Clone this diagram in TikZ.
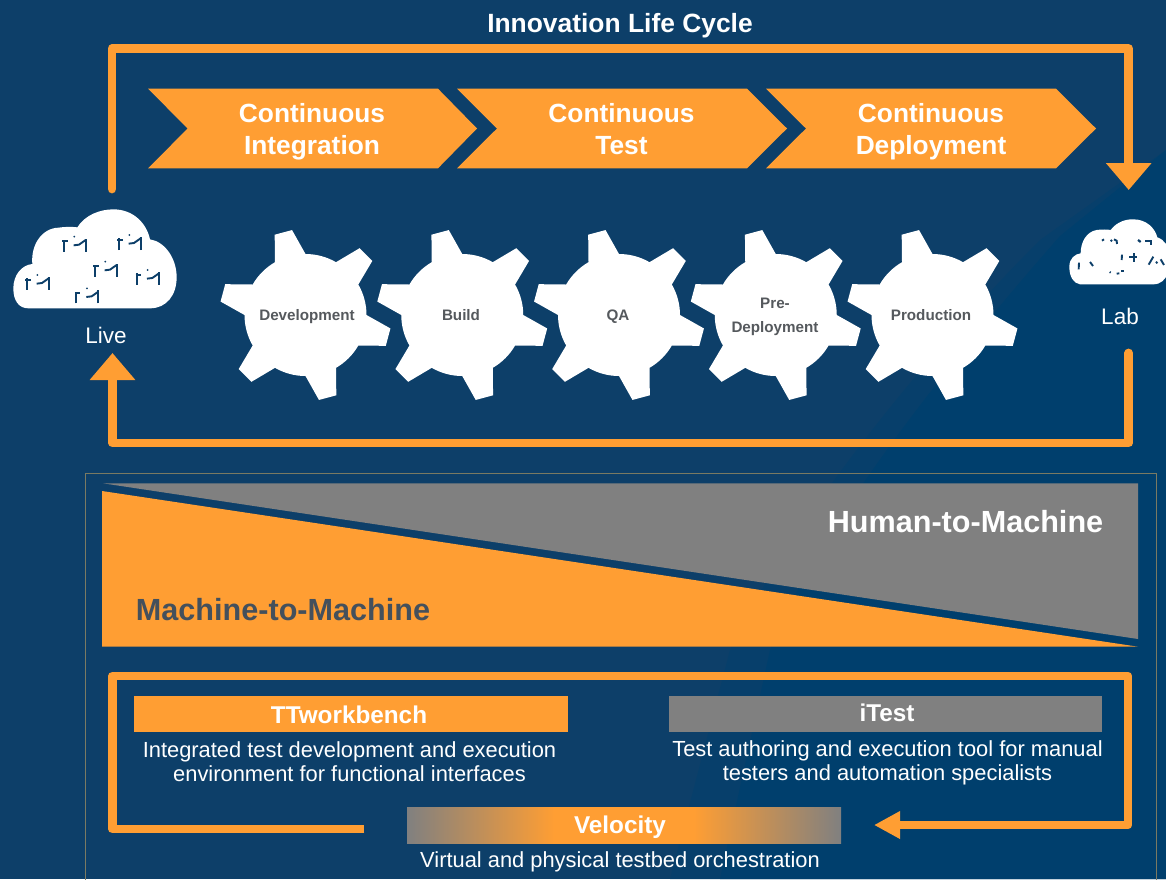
\documentclass[tikz,border=0pt]{standalone}
\usepackage{fontspec}
\setmainfont{Liberation Sans}
\usetikzlibrary{arrows.meta}
\definecolor{bgL}{HTML}{0D3F69}
\definecolor{bgM}{HTML}{073F6B}
\definecolor{bgR}{HTML}{003F6D}
\definecolor{orng}{HTML}{FF9E33}
\definecolor{gry}{HTML}{808080}
\definecolor{slate}{HTML}{44505C}
\definecolor{geartxt}{HTML}{55595D}
\definecolor{framec}{HTML}{7A7A62}
\pgfdeclarehorizontalshading{velgrad}{100bp}{color(0bp)=(gry); color(25bp)=(gry); color(42bp)=(orng); color(58bp)=(orng); color(75bp)=(gry); color(100bp)=(gry)}
\newcommand{\fs}[2]{\fontsize{#1}{#2}\selectfont}
\newcommand{\depthfix}{\vphantom{Dg}}
\tikzset{
  loopline/.style={draw=orng,line width=8.8pt,line join=round},
  bigarrow/.style={-{Triangle[length=27pt,width=44pt]}},
  chevron/.style={fill=orng},
  chevtext/.style={text=white,font=\fs{26.3}{32}\bfseries,align=center,inner sep=0pt},
  geartext/.style={text=geartxt,font=\fs{15.2}{24}\bfseries,align=center,inner sep=0pt},
  cloudtext/.style={text=white,font=\fs{22.5}{26},inner sep=0pt},
  headtext/.style={text=white,font=\fs{24.3}{28}\bfseries,inner sep=0pt},
  bodytext/.style={text=white,font=\fs{21.87}{24},align=center,inner sep=0pt},
  wedgetext/.style={font=\fs{30.6}{34}\bfseries,inner sep=0pt},
  cloudhole/.style={draw=bgL,line width=1.9pt,line cap=butt},
}
\newcommand{\gearshape}[2]{%
  \begin{scope}[shift={(#1,#2)},x=1pt,y=1pt]
    \fill[white] (120:61)
      -- (111:86) -- (99:86) -- (90:61) arc[start angle=90,end angle=60,radius=61]
      -- (51:86) -- (39:86) -- (30:61) arc[start angle=30,end angle=0,radius=61]
      -- (-9:86) -- (-21:86) -- (-30:61) arc[start angle=-30,end angle=-60,radius=61]
      -- (-69:86) -- (-81:86) -- (-90:61) arc[start angle=-90,end angle=-120,radius=61]
      -- (-129:86) -- (-141:86) -- (-150:61) arc[start angle=-150,end angle=-180,radius=61]
      -- (171:86) -- (159:86) -- (150:61) arc[start angle=150,end angle=120,radius=61] -- cycle;
  \end{scope}}
\newcommand{\holemark}[2]{%
  \draw[cloudhole] (#1+4,#2+45) -- (#1+4,#2+10);
  \draw[cloudhole] (#1,#2+14) -- (#1+16,#2+14);
  \draw[cloudhole] (#1+70,#2+45) -- (#1+70,#2+6);
  \draw[cloudhole] (#1+34,#2+26) -- (#1+50,#2+24) -- (#1+70,#2+10);
  \fill[bgL] (#1+36,#2) circle[radius=3];}
\begin{document}
\begin{tikzpicture}[x=1pt,y=-1pt]
\clip (0,0) rectangle (1166,879);
\fill[bgL] (0,0) rectangle (1166,879);
\fill[bgM] (1166,150) -- (1040,240) .. controls (930,350) and (790,520) .. (730,650) -- (670,879) -- (1166,879) -- cycle;
\fill[bgR] (1166,150) -- (1060,236) .. controls (960,350) and (820,520) .. (770,650) -- (720,879) -- (1166,879) -- cycle;

% title
\node[text=white,font=\fs{26.4}{30}\bfseries,inner sep=0pt] (title) at (620,26) {Innovation Life Cycle};

% chevrons
\fill[chevron] (148,88.7) -- (438,88.7) -- (477,128.5) -- (438,168.3) -- (148,168.3) -- (187.7,128.5) -- cycle;
\fill[chevron] (457,88.7) -- (747,88.7) -- (787,128.5) -- (747,168.3) -- (457,168.3) -- (497,128.5) -- cycle;
\fill[chevron] (766,88.7) -- (1056,88.7) -- (1096,128.5) -- (1056,168.3) -- (766,168.3) -- (806,128.5) -- cycle;
\node[chevtext] (ci) at (312,132) {Continuous\\Integration};
\node[chevtext] (ct) at (621.5,132) {Continuous\\Test\depthfix};
\node[chevtext] (cd) at (931,132) {Continuous\\Deployment};

% gears
\gearshape{305.5}{315}
\gearshape{462.25}{315}
\gearshape{619}{315}
\gearshape{775.75}{315}
\gearshape{932.5}{315}
\node[geartext] (g1) at (307,317) {Development\depthfix};
\node[geartext] (g2) at (461,317) {Build\depthfix};
\node[geartext] (g3) at (618,317) {QA\depthfix};
\node[geartext] (g4) at (775,317.25) {Pre-\\Deployment};
\node[geartext] (g5) at (931,317) {Production\depthfix};

% Live cloud
\begin{scope}[shift={(0,190)},x=0.3333pt,y=-0.3333pt]
  \fill[white] (85,355) .. controls (55,355) and (40,330) .. (40,295)
    .. controls (40,255) and (65,225) .. (97,222)
    .. controls (92,165) and (125,115) .. (175,113)
    .. controls (195,110) and (215,110) .. (232,112)
    .. controls (255,75) and (300,58) .. (340,58)
    .. controls (400,58) and (440,100) .. (450,148)
    .. controls (495,155) and (530,205) .. (530,262)
    .. controls (530,315) and (500,355) .. (450,355) -- cycle;
  \holemark{187}{140}
  \holemark{352}{135}
  \holemark{280}{215}
  \holemark{407}{240}
  \holemark{76}{255}
  \holemark{225}{295}
\end{scope}
\node[cloudtext] (live) at (106,335) {Live};

% Lab cloud
\begin{scope}[shift={(1040,150)},x=0.3333pt,y=-0.3333pt]
  \fill[white] (120,403) .. controls (100,400) and (88,380) .. (88,350)
    .. controls (88,325) and (105,312) .. (122,310)
    .. controls (122,275) and (140,245) .. (170,240)
    .. controls (185,238) and (200,238) .. (212,240)
    .. controls (230,215) and (260,207) .. (280,208)
    .. controls (320,208) and (345,235) .. (352,262)
    .. controls (375,270) and (385,290) .. (388,310)
    .. controls (395,345) and (385,403) .. (340,403) -- cycle;
  \begin{scope}[line cap=round]
  \draw[cloudhole] (186,272) -- (192,268);
  \draw[cloudhole] (212,274) -- (216,270);
  \draw[cloudhole] (222,268) -- (230,272) -- (231,282);
  \draw[cloudhole,line width=2.2pt] (294,270) -- (302,276);
  \draw[cloudhole,line width=2.2pt] (316,272) -- (334,272) -- (334,284);
  \draw[cloudhole] (246,314) -- (245,330);
  \draw[cloudhole,line width=2.2pt] (268,320) -- (290,320);
  \draw[cloudhole,line width=2.2pt] (281,310) -- (281,336);
  \draw[cloudhole] (117,338) -- (116,358);
  \draw[cloudhole] (150,336) -- (159,348);
  \draw[cloudhole] (326,344) -- (340,320);
  \draw[cloudhole] (348,335) -- (352,340);
  \draw[cloudhole] (362,328) -- (372,345);
  \draw[cloudhole] (209,366) -- (212,368);
  \draw[cloudhole] (230,371) -- (238,370);
  \draw[cloudhole,line width=2.2pt] (244,364) -- (252,364);
  \end{scope}
\end{scope}
\node[cloudtext] (lab) at (1120,316) {Lab};

% cycle connectors
\coordinate (liveTop) at (112,189);
\coordinate (topRight) at (1128.7,48.7);
\coordinate (labArrow) at (1128.7,190);
\coordinate (labBottom) at (1128.7,353);
\coordinate (botLeft) at (112.5,443);
\coordinate (liveArrow) at (112.5,353);
\draw[loopline,line cap=round,bigarrow] (liveTop) |- (topRight) -- (labArrow);
\draw[loopline,line cap=round,bigarrow] (labBottom) |- (botLeft) -- (liveArrow);

% lower frame
\draw[framec,line width=0.8pt] (85,890) -- (85,473.7) -- (1156.7,473.7) -- (1156.7,890);

% wedges
\fill[gry] (103,483.3) -- (1138,483.3) -- (1138,639) -- cycle;
\fill[orng] (102,491) -- (1138,646.7) -- (102,646.7) -- cycle;
\node[wedgetext,text=white] (h2m) at (965.5,522) {Human-to-Machine};
\node[wedgetext,text=slate] (m2m) at (283,610) {Machine-to-Machine};

% product boxes
\fill[orng] (134,696) rectangle (568,732);
\fill[gry] (669,696) rectangle (1102,732);
\shade[shading=velgrad] (407,807) rectangle (841,843);
\node[headtext] (ttw) at (349,715) {TTworkbench};
\node[headtext] (itest) at (887,713) {iTest};
\node[headtext] (vel) at (620,827) {Velocity};
\node[bodytext] (ttwd) at (349.5,761.5) {Integrated test development and execution\\environment for functional interfaces};
\node[bodytext] (itestd) at (887.5,762.5) {Test authoring and execution tool for manual\\testers and automation specialists};
\node[bodytext] (veld) at (620,862) {Virtual and physical testbed orchestration};

% product connectors
\coordinate (loopA) at (364.3,829);
\coordinate (loopB) at (874,825);
\draw[loopline,-{Triangle[length=26pt,width=26pt]}] (loopA) -- (112.3,829) -- (112.3,676) -- (1128,676) -- (1128,825) -- (loopB);
\end{tikzpicture}
\end{document}
